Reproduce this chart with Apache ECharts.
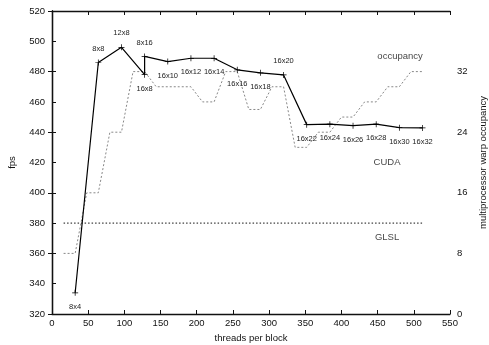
<!DOCTYPE html>
<html><head><meta charset="utf-8">
<script src="https://cdn.jsdelivr.net/npm/echarts@6/dist/echarts.min.js"></script>
<style>html,body{margin:0;padding:0;background:#fff}#c{width:489px;height:345px}</style>
</head><body><div id="c"></div>
<script>
// ---- data ----
const configNames = ['8x4','8x8','12x8','16x8','8x16','16x10','16x12','16x14','16x16','16x18','16x20','16x22','16x24','16x26','16x28','16x30','16x32'];
const threadsPerBlock = [32,64,96,128,128,160,192,224,256,288,320,352,384,416,448,480,512];
const cudaFps = [334,486,496,478,490,486.6,488.8,488.8,481.2,479.2,477.8,445,445.3,444.3,445.3,443,442.8];
const labelSide = ['bottom','top','top','bottom','top','bottom','bottom','bottom','bottom','bottom','top','bottom','bottom','bottom','bottom','bottom','bottom'];

const occThreads = [16,32,48,64,80,96,112,128,144,160,176,192,208,224,240,256,272,288,304,320,336,352,368,384,400,416,432,448,464,480,496,512];
const occWarps   = [8,8,16,16,24,24,32,32,30,30,30,30,28,28,32,32,27,27,30,30,22,22,24,24,26,26,28,28,30,30,32,32];

const glslThreads = [16,512];
const glslFps = [380,380];

const xTicks = {min:0, max:550, step:50};
const yTicks = {min:320, max:520, step:20};
const y2Ticks = {min:0, max:40, step:8};

const notes = [
  {text:'occupancy', x:481, y:490.3},
  {text:'CUDA', x:463, y:420.2},
  {text:'GLSL', x:463, y:370.4}
];

// ---- chart ----
const FONT = '"Liberation Sans", Arial, Helvetica, sans-serif';
const txt = {fontFamily: FONT, fontSize: 9.5, color: '#111'};
const axisLine = {show:true, lineStyle:{color:'#111', width:1.3}};
const tick = {show:true, inside:true, length:4, lineStyle:{color:'#111', width:1}};
const plus = 'path://M4.4,0H5.6V10H4.4Z M0,4.4H10V5.6H0Z';

const chart = echarts.init(document.getElementById('c'));
chart.setOption({
  animation:false,
  backgroundColor:'#fff',
  grid:{left:52, right:39, top:11, bottom:31, containLabel:false, outerBoundsMode:'none'},
  xAxis:[
    {type:'value', min:xTicks.min, max:xTicks.max, interval:xTicks.step, position:'bottom',
     axisLine, axisTick:tick, splitLine:{show:false},
     axisLabel:Object.assign({margin:4}, txt),
     name:'threads per block', nameLocation:'middle', nameGap:17, nameTextStyle:txt},
    {type:'value', min:xTicks.min, max:xTicks.max, interval:xTicks.step, position:'top',
     axisLine, axisTick:tick, splitLine:{show:false}, axisLabel:{show:false}}
  ],
  yAxis:[
    {type:'value', min:yTicks.min, max:yTicks.max, interval:yTicks.step, position:'left',
     axisLine, axisTick:tick, splitLine:{show:false},
     axisLabel:Object.assign({margin:7}, txt),
     name:'fps', nameLocation:'middle', nameGap:35, nameRotate:90, nameTextStyle:txt},
    {type:'value', min:y2Ticks.min, max:y2Ticks.max, interval:y2Ticks.step, position:'right',
     axisLine, axisTick:tick, splitLine:{show:false},
     axisLabel:Object.assign({margin:7, formatter:v => v === y2Ticks.max ? '' : String(v)}, txt),
     name:'multiprocessor warp occupancy', nameLocation:'middle', nameGap:27, nameRotate:90, nameTextStyle:txt}
  ],
  series:[
    {type:'line', name:'occupancy', xAxisIndex:0, yAxisIndex:1, symbol:'none', z:2,
     data: occThreads.map((t,i)=>[t, occWarps[i]]),
     lineStyle:{color:'#888', width:1, type:[2,2]}},
    {type:'line', name:'GLSL', xAxisIndex:0, yAxisIndex:0, symbol:'none', z:2,
     data: glslThreads.map((t,i)=>[t, glslFps[i]]),
     lineStyle:{color:'#111', width:1, type:[1.5,2]}},
    {type:'line', name:'CUDA', xAxisIndex:0, yAxisIndex:0, z:3,
     symbol:plus, symbolSize:6, showAllSymbol:true,
     lineStyle:{color:'#000', width:1.2}, itemStyle:{color:'#000'},
     label:{show:true, formatter:p=>p.name, fontFamily:FONT, fontSize:7.5, color:'#222', distance:7},
     data: threadsPerBlock.map((t,i)=>({name:configNames[i], value:[t, cudaFps[i]], label:{position:labelSide[i]}}))},
    {type:'scatter', xAxisIndex:0, yAxisIndex:0, symbolSize:1, itemStyle:{color:'rgba(0,0,0,0)'}, silent:true,
     label:{show:true, position:'inside', formatter:p=>p.name, fontFamily:FONT, fontSize:9.5, color:'#111'},
     data: notes.map(n=>({name:n.text, value:[n.x, n.y]}))}
  ]
});
</script></body></html>
